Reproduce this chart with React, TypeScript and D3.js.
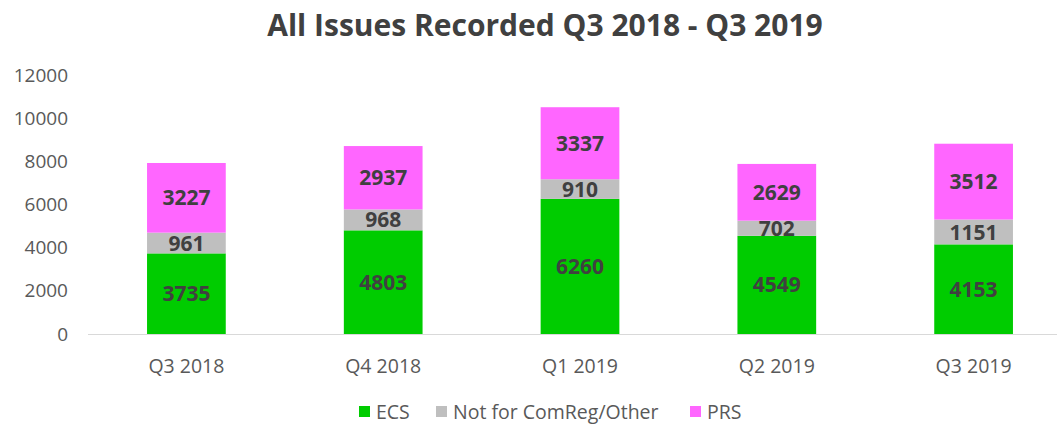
import React from "react";
import * as d3 from "d3";

const categories = ["Q3 2018", "Q4 2018", "Q1 2019", "Q2 2019", "Q3 2019"];
const ecs = [3735, 4803, 6260, 4549, 4153];
const other = [961, 968, 910, 702, 1151];
const prs = [3227, 2937, 3337, 2629, 3512];
const seriesNames = ["ECS", "Not for ComReg/Other", "PRS"];
const seriesColors = ["#00CC00", "#BFBFBF", "#FF66FF"];
const yTicks = [0, 2000, 4000, 6000, 8000, 10000, 12000];

const W = 1057;
const H = 427;
const FONT = "'Open Sans', 'Liberation Sans', sans-serif";

export default function App() {
  const x = d3.scaleBand().domain(categories).range([88, 1072]).paddingInner(0.6).paddingOuter(0.3);
  const y = d3.scaleLinear().domain([0, 12000]).range([334, 75]);
  const rows = categories.map((c, i) => ({ cat: c, ECS: ecs[i], "Not for ComReg/Other": other[i], PRS: prs[i] }));
  const stacked = d3.stack<any>().keys(seriesNames)(rows);

  const legendItems = [
    { name: seriesNames[0], x: 359 },
    { name: seriesNames[1], x: 436 },
    { name: seriesNames[2], x: 690 },
  ];

  return (
    <svg width={W} height={H} style={{ display: "block", position: "absolute", left: 0, top: 0 }}>
      <rect width={W} height={H} fill="#ffffff" />
      <text x={545} y={36} textAnchor="middle" fontFamily={FONT} fontWeight={700} fontSize={30} fill="#404040">
        All Issues Recorded Q3 2018 - Q3 2019
      </text>
      {yTicks.map((t) => (
        <text key={t} x={68} y={y(t)} dy="0.35em" textAnchor="end" fontFamily={FONT} fontSize={19} fill="#595959">
          {t}
        </text>
      ))}
      <line x1={88} x2={1057} y1={334.5} y2={334.5} stroke="#d9d9d9" strokeWidth={1} />
      {stacked.map((s, si) => (
        <g key={s.key}>
          {s.map((d, i) => (
            <g key={i}>
              <rect
                x={x(categories[i])!}
                width={x.bandwidth()}
                y={y(d[1])}
                height={y(d[0]) - y(d[1])}
                fill={seriesColors[si]}
              />
              <text
                x={x(categories[i])! + x.bandwidth() / 2}
                y={(y(d[0]) + y(d[1])) / 2}
                dy="0.36em"
                textAnchor="middle"
                fontFamily={FONT}
                fontWeight={700}
                fontSize={21}
                fill="#404040"
              >
                {d[1] - d[0]}
              </text>
            </g>
          ))}
        </g>
      ))}
      {categories.map((c) => (
        <text key={c} x={x(c)! + x.bandwidth() / 2} y={366} dy="0.35em" textAnchor="middle" fontFamily={FONT} fontSize={19.5} fill="#595959">
          {c}
        </text>
      ))}
      {legendItems.map((l, i) => (
        <g key={l.name}>
          <rect x={l.x} y={406} width={11} height={11} fill={seriesColors[i]} />
          <text x={l.x + 17} y={412} dy="0.35em" fontFamily={FONT} fontSize={19.5} fill="#595959">
            {l.name}
          </text>
        </g>
      ))}
    </svg>
  );
}
